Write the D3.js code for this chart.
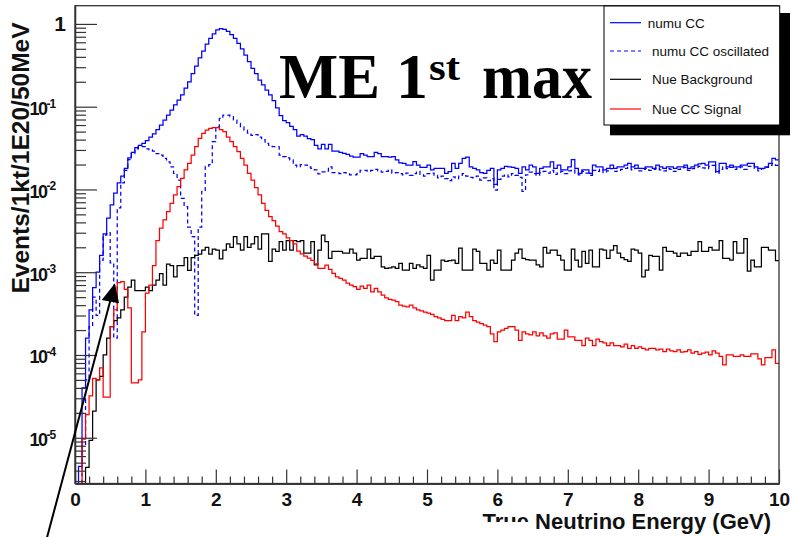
<!DOCTYPE html>
<html><head><meta charset="utf-8">
<script src="https://cdn.jsdelivr.net/npm/d3@7"></script>
<style>
body{margin:0;background:#fff;}
svg{display:block;}
</style></head><body>
<svg id="c" width="793" height="537"></svg>
<script>
// ---------------- DATA (bin contents, 50 MeV bins from 0 to 10 GeV) ----------------
const nBins = 200, eMin = 0, eMax = 10;
const numuCC = [
0,4.5e-6,4e-5,1.6e-4,3.5e-4,6.5e-4,1.0e-3,1.6e-3,2.9e-3,4.5e-3,
6.5e-3,9e-3,0.012,0.0145,0.018,0.024,0.028,0.032,0.034,0.036,
0.039,0.043,0.047,0.053,0.060,0.069,0.079,0.091,0.105,0.12,
0.139,0.167,0.20,0.25,0.31,0.39,0.47,0.57,0.67,0.76,
0.85,0.88,0.86,0.81,0.74,0.67,0.58,0.50,0.42,0.35,
0.29,0.25,0.21,0.183,0.159,0.139,0.118,0.097,0.078,0.068,
0.064,0.058,0.053,0.044,0.046,0.044,0.041,0.040,0.034,0.031,
0.035,0.031,0.035,0.029,0.029,0.028,0.0273,0.0265,0.0253,0.0245,
0.0245,0.027,0.026,0.025,0.025,0.028,0.027,0.025,0.025,0.0245,
0.025,0.0227,0.021,0.0207,0.0197,0.0197,0.0217,0.0197,0.0185,0.0185,
0.0197,0.0172,0.018,0.018,0.018,0.0156,0.0164,0.0207,0.018,0.0207,
0.0238,0.0245,0.0188,0.018,0.0172,0.016,0.0156,0.017,0.018,0.0115,
0.0172,0.018,0.019,0.0188,0.0185,0.018,0.0156,0.0188,0.0172,0.0197,
0.0188,0.0156,0.018,0.0188,0.0188,0.0215,0.018,0.0197,0.0172,0.0172,
0.0188,0.023,0.018,0.0156,0.0172,0.0172,0.0156,0.0197,0.0188,0.0188,
0.0172,0.018,0.0197,0.018,0.0188,0.0188,0.0197,0.0207,0.0188,0.0197,
0.018,0.018,0.0188,0.0188,0.018,0.0197,0.0188,0.018,0.0188,0.0188,
0.018,0.0188,0.0188,0.0197,0.018,0.0188,0.0197,0.0203,0.0207,0.0197,
0.0215,0.0215,0.0164,0.0207,0.0207,0.0188,0.0197,0.0188,0.0188,0.0197,
0.0197,0.0207,0.0207,0.0188,0.018,0.018,0.0188,0.0207,0.0238,0.0227];
const numuCCOsc = [
0,0,8e-6,5e-5,2.2e-4,5e-4,3e-4,1.4e-3,2.8e-3,3.0e-3,
1.3e-3,1.6e-4,6e-3,0.012,0.017,0.023,0.027,0.031,0.033,0.033,
0.031,0.030,0.029,0.027,0.026,0.0238,0.0216,0.0188,0.0156,0.013,
0.0078,0.0062,0.0035,0.0027,3.0e-4,0.0035,0.0095,0.019,0.020,0.0377,
0.057,0.072,0.079,0.079,0.076,0.069,0.063,0.057,0.052,0.048,
0.045,0.046,0.043,0.040,0.036,0.034,0.033,0.033,0.026,0.025,
0.024,0.0227,0.0197,0.0188,0.020,0.0197,0.0188,0.018,0.0172,0.0154,
0.0163,0.0167,0.0188,0.016,0.016,0.0155,0.016,0.0154,0.015,0.015,
0.0154,0.017,0.017,0.0165,0.017,0.0175,0.0168,0.0162,0.0165,0.0172,
0.0158,0.016,0.0155,0.015,0.0158,0.0148,0.0155,0.0165,0.0152,0.0145,
0.0155,0.0158,0.0148,0.0138,0.0145,0.0135,0.0128,0.0142,0.0135,0.0148,
0.0155,0.0145,0.014,0.0138,0.0145,0.013,0.0138,0.0128,0.0135,0.0098,
0.0132,0.0145,0.015,0.0142,0.0155,0.0148,0.014,0.0095,0.015,0.0162,
0.0155,0.0148,0.016,0.0165,0.0158,0.017,0.0152,0.016,0.0165,0.0155,
0.0168,0.0172,0.0158,0.015,0.0165,0.0158,0.0148,0.017,0.0165,0.0175,
0.016,0.0168,0.0178,0.0165,0.017,0.0175,0.018,0.0185,0.0172,0.018,
0.0168,0.0175,0.018,0.017,0.0175,0.0182,0.0172,0.0168,0.0178,0.0175,
0.0165,0.0175,0.0182,0.0185,0.017,0.0178,0.0185,0.019,0.0182,0.0178,
0.019,0.0195,0.0158,0.0175,0.0188,0.0178,0.0185,0.0175,0.0182,0.0188,
0.0175,0.019,0.0195,0.018,0.0168,0.0178,0.0185,0.0195,0.0205,0.0195];
const nueBackground = [
0,0,0,4.4e-6,9.3e-6,2.1e-5,5e-5,5.5e-5,1e-4,1.6e-4,
2.2e-4,2.6e-4,2.8e-4,3.5e-4,5e-4,6.6e-4,8e-4,6e-4,6e-4,6e-4,
6.6e-4,6e-4,7e-4,8e-4,9.6e-4,7e-4,1.25e-3,1.2e-3,8.8e-4,1.2e-3,
1.2e-3,1.5e-3,1.05e-3,1.5e-3,1.6e-3,1.65e-3,1.85e-3,2e-3,1.65e-3,1.9e-3,
1.85e-3,1.45e-3,1.85e-3,2.2e-3,2e-3,2.7e-3,2.2e-3,1.85e-3,2.7e-3,2e-3,
2.2e-3,2.7e-3,1.9e-3,2.9e-3,2.9e-3,1.35e-3,1.9e-3,1.78e-3,2.35e-3,1.85e-3,
2.4e-3,1.85e-3,2.4e-3,2.35e-3,2.4e-3,1.7e-3,1.7e-3,2.35e-3,1.23e-3,1.85e-3,
2.8e-3,2.35e-3,1.47e-3,1.78e-3,1.78e-3,1.78e-3,1.7e-3,1.7e-3,1.9e-3,1.7e-3,
1.4e-3,1.47e-3,1.47e-3,1.9e-3,1.47e-3,1.55e-3,1.55e-3,1.16e-3,1.11e-3,1.13e-3,
1.16e-3,1.11e-3,1.28e-3,1.06e-3,1.06e-3,1.28e-3,1.11e-3,1.23e-3,1.16e-3,1.11e-3,
1.6e-3,8e-4,1.06e-3,1.06e-3,1.4e-3,1.35e-3,1.38e-3,1.4e-3,1.28e-3,1.95e-3,
1.06e-3,1.06e-3,1.06e-3,1.9e-3,1.78e-3,1.28e-3,1.28e-3,1.06e-3,1.4e-3,1.28e-3,
1.85e-3,1.06e-3,1.06e-3,1.06e-3,1.4e-3,1.7e-3,1.9e-3,1.47e-3,1.42e-3,1.4e-3,
1.4e-3,1.23e-3,1.16e-3,2.0e-3,1.7e-3,1.85e-3,1.85e-3,1.6e-3,1.4e-3,1.06e-3,
1.06e-3,1.9e-3,1.4e-3,1.16e-3,1.78e-3,1.28e-3,1.85e-3,1.16e-3,1.16e-3,1.9e-3,
1.85e-3,1.47e-3,1.85e-3,2.1e-3,1.7e-3,1.5e-3,1.42e-3,1.35e-3,1.9e-3,1.85e-3,
1.7e-3,8.8e-4,1.06e-3,1.6e-3,1.55e-3,1.55e-3,1.06e-3,2.0e-3,1.78e-3,1.78e-3,
1.7e-3,1.55e-3,1.7e-3,1.7e-3,1.6e-3,1.78e-3,1.78e-3,2.35e-3,1.78e-3,1.78e-3,
2.0e-3,1.85e-3,1.85e-3,2.4e-3,1.47e-3,1.47e-3,1.4e-3,2.35e-3,1.7e-3,1.7e-3,
2.55e-3,1.03e-3,1.4e-3,1.16e-3,1.16e-3,2.0e-3,2.0e-3,1.85e-3,1.85e-3,1.38e-3];
const nueCCSignal = [
0,0,9.6e-6,1.9e-5,3.2e-5,5.2e-5,5e-5,7e-5,3.1e-5,3.1e-5,
2.2e-4,3.5e-4,7.5e-4,7.7e-4,6.2e-4,3.7e-4,4.6e-5,4.6e-5,5e-5,1.9e-4,
5.6e-4,7e-4,1.2e-3,2.4e-3,0.0034,0.0043,0.0054,0.0068,0.0086,0.0108,
0.0136,0.0172,0.0207,0.026,0.033,0.0415,0.0477,0.052,0.0547,0.056,
0.056,0.053,0.050,0.043,0.0377,0.033,0.0286,0.0238,0.0197,0.0156,
0.013,0.0105,0.0086,0.0068,0.0056,0.0047,0.0042,0.0036,0.0031,0.0029,
0.0026,0.0024,0.0022,0.0018,0.00167,0.00157,0.00148,0.00139,0.00126,0.00111,
0.00111,0.00122,0.00108,0.00097,0.00088,0.00084,0.0008,0.00074,0.0007,0.00067,
0.00062,0.00068,0.00064,0.0007,0.00058,0.00064,0.00058,0.00053,0.00049,0.00047,
0.00046,0.00044,0.0004,0.00039,0.00038,0.0004,0.00037,0.00035,0.00034,0.00033,
0.00032,0.00031,0.00029,0.00028,0.00027,0.00026,0.00026,0.0003,0.00026,0.00029,
0.00028,0.00033,0.00029,0.00026,0.00025,0.00024,0.00023,0.00022,0.00018,0.000145,
0.00019,0.0002,0.00021,0.00022,0.00022,0.0002,0.00015,0.00019,0.00018,0.000175,
0.00019,0.00017,0.000185,0.00017,0.00016,0.00018,0.000185,0.000155,0.000155,0.0002,
0.000165,0.000165,0.00015,0.00015,0.00013,0.00016,0.00015,0.00013,0.000155,0.000145,
0.00014,0.00013,0.00014,0.00013,0.00013,0.000125,0.000135,0.00012,0.00013,0.00012,
0.000125,0.00012,0.000115,0.00012,0.00012,0.000115,0.000118,0.00011,0.000118,0.000112,
0.00011,0.000115,0.000108,0.00011,0.000115,0.000105,0.00011,0.000102,0.000105,0.000108,
0.0001,0.000112,0.000105,9.6e-5,7.6e-5,1e-4,1e-4,9.6e-5,9.6e-5,1e-4,
9.6e-5,9.6e-5,1.03e-4,1.03e-4,9e-5,7.6e-5,9.3e-5,9.3e-5,1.15e-4,7.9e-5];
const xTickValues = [0,1,2,3,4,5,6,7,8,9,10];
const yMajorTicks = [1e-5,1e-4,1e-3,1e-2,1e-1,1];
const yTickMantissa = ["10","10","10","10","10","1"];
const yTickExponent = ["-5","-4","-3","-2","-1",""];
const seriesNames = ["numu CC","numu CC oscillated","Nue Background","Nue CC Signal"];
const yAxisTitle = "Events/1kt/1E20/50MeV";
const xAxisTitle = "True Neutrino Energy (GeV)";

// ---------------- LAYOUT ----------------
const svg = d3.select("#c");
const P = {left:75, right:779, top:5.7, bottom:483.5};
const yDomain = [2.8e-6, 1.66];
const x = d3.scaleLinear().domain([eMin,eMax]).range([P.left,P.right]);
const y = d3.scaleLog().domain(yDomain).range([P.bottom,P.top]).clamp(true);
const bw = (eMax-eMin)/nBins;
const sans = "'Liberation Sans',Arial,Helvetica,sans-serif";

svg.append("rect").attr("width",793).attr("height",537).attr("fill","#fff");

svg.append("defs").append("clipPath").attr("id","clip")
  .append("rect").attr("x",P.left).attr("y",P.top)
  .attr("width",P.right-P.left).attr("height",P.bottom-P.top);

const series = [
  {name:seriesNames[0], data:numuCC, color:"#0000ff", dash:null},
  {name:seriesNames[1], data:numuCCOsc, color:"#0000ff", dash:"4,3"},
  {name:seriesNames[2], data:nueBackground, color:"#000000", dash:null},
  {name:seriesNames[3], data:nueCCSignal, color:"#ff0000", dash:null}
];

const line = d3.line().x(d=>x(d[0])).y(d=>y(d[1] > 0 ? d[1] : yDomain[0]));
function stepPoints(arr){
  const pts=[];
  arr.forEach((v,i)=>{ pts.push([eMin+i*bw, v]); pts.push([eMin+(i+1)*bw, v]); });
  return pts;
}
const gH = svg.append("g").attr("clip-path","url(#clip)");
series.forEach(s=>{
  gH.append("path").attr("d", line(stepPoints(s.data)))
    .attr("fill","none").attr("stroke",s.color).attr("stroke-width",1.25)
    .attr("stroke-dasharray", s.dash).attr("stroke-linejoin","miter");
});

// frame
svg.append("rect").attr("x",P.left).attr("y",P.top)
  .attr("width",P.right-P.left).attr("height",P.bottom-P.top)
  .attr("fill","none").attr("stroke","#333").attr("stroke-width",1.3);

// x axis
const xMinor = d3.range(0,51).map(i=>i*0.2).filter(v=>Math.abs(v-Math.round(v))>1e-6 && v<=eMax);
const gx = svg.append("g").attr("transform",`translate(0,${P.bottom})`);
gx.call(d3.axisBottom(x).tickValues(xTickValues).tickSizeInner(-14).tickSizeOuter(0).tickPadding(8).tickFormat(d3.format("d")));
const gxm = svg.append("g").attr("transform",`translate(0,${P.bottom})`);
gxm.call(d3.axisBottom(x).tickValues(xMinor).tickSizeInner(-7).tickSizeOuter(0).tickFormat(""));
[gx,gxm].forEach(g=>{
  g.select(".domain").attr("stroke","#333").attr("stroke-width",1.3);
  g.selectAll(".tick line").attr("stroke","#333").attr("stroke-width",1.2);
});
gx.selectAll(".tick text").attr("font-family",sans)
  .attr("font-weight","bold").attr("font-size",19).attr("fill","#111")
  .attr("dy","0.71em").attr("y",9);

// y axis
const yMinor=[];
for(let e=-6;e<=0;e++){ for(let m=2;m<=9;m++){ const v=m*Math.pow(10,e); if(v>yDomain[0]&&v<yDomain[1]) yMinor.push(v);} }
const gy = svg.append("g").attr("transform",`translate(${P.left},0)`);
gy.call(d3.axisLeft(y).tickValues(yMajorTicks).tickSizeInner(-22).tickSizeOuter(0).tickFormat(""));
const gym = svg.append("g").attr("transform",`translate(${P.left},0)`);
gym.call(d3.axisLeft(y).tickValues(yMinor).tickSizeInner(-11).tickSizeOuter(0).tickFormat(""));
[gy,gym].forEach(g=>{
  g.select(".domain").attr("stroke","#333").attr("stroke-width",1.3);
  g.selectAll(".tick line").attr("stroke","#333").attr("stroke-width",1.2);
});
yMajorTicks.forEach((v,i)=>{
  const yy = y(v);
  if(yTickExponent[i]===""){
    svg.append("text").attr("x",66).attr("y",yy+7.5).attr("text-anchor","end")
      .attr("font-family",sans).attr("font-weight","bold")
      .attr("font-size",21).attr("fill","#111").text(yTickMantissa[i]);
  } else {
    const t = svg.append("text").attr("x",55.5).attr("y",yy+8.5).attr("text-anchor","end")
      .attr("font-family",sans).attr("font-weight","bold").attr("fill","#111");
    t.append("tspan").attr("font-size",18).attr("letter-spacing",-1.5).text(yTickMantissa[i]);
    t.append("tspan").attr("font-size",12).attr("letter-spacing",-0.8).attr("dy",-7.5).text(yTickExponent[i]);
  }
});

// axis titles
svg.append("text").attr("transform","translate(28.5,158) rotate(-90)")
  .attr("text-anchor","middle").attr("font-family",sans)
  .attr("font-weight","bold").attr("font-size",24.5).attr("fill","#111").text(yAxisTitle);
svg.append("text").attr("x",771).attr("y",529).attr("text-anchor","end")
  .attr("font-family",sans)
  .attr("font-weight","bold").attr("font-size",22).attr("fill","#111").text(xAxisTitle);
// the lower part of the first word is hidden in the reference picture
svg.append("rect").attr("x",470).attr("y",522).attr("width",60).attr("height",15).attr("fill","#fff");

// title "ME 1st max"
const tf = "'Liberation Serif','Times New Roman',serif";
svg.append("text").attr("x",279).attr("y",98).attr("font-family",tf).attr("font-weight","bold")
  .attr("font-size",64).attr("textLength",101).attr("lengthAdjust","spacingAndGlyphs").text("ME");
svg.append("text").attr("x",396).attr("y",98).attr("font-family",tf).attr("font-weight","bold")
  .attr("font-size",64).text("1");
svg.append("text").attr("x",429).attr("y",80).attr("font-family",tf).attr("font-weight","bold")
  .attr("font-size",38).attr("textLength",31).attr("lengthAdjust","spacingAndGlyphs").text("st");
svg.append("text").attr("x",482).attr("y",98).attr("font-family",tf).attr("font-weight","bold")
  .attr("font-size",64).attr("textLength",110).attr("lengthAdjust","spacingAndGlyphs").text("max");

// legend
const L = {x:604, y:6, w:175.7, h:119};
svg.append("rect").attr("x",L.x+6).attr("y",L.y+7).attr("width",L.w+4.3).attr("height",L.h+3.3).attr("fill","#000");
svg.append("rect").attr("x",L.x).attr("y",L.y).attr("width",L.w).attr("height",L.h)
  .attr("fill","#fff").attr("stroke","#000").attr("stroke-width",1);
const rowY = [22.7,51,79.3,109];
const textX = [647.7,652,652,652];
series.forEach((s,i)=>{
  svg.append("line").attr("x1",610).attr("x2",641).attr("y1",rowY[i]).attr("y2",rowY[i])
    .attr("stroke",s.color).attr("stroke-width",1.2).attr("stroke-dasharray",s.dash);
  svg.append("text").attr("x",textX[i]).attr("y",rowY[i]+5).attr("font-family",sans)
    .attr("font-size",13.5).attr("fill","#111").text(s.name);
});

// annotation arrow
svg.append("line").attr("x1",45).attr("y1",545).attr("x2",110.5).attr("y2",300)
  .attr("stroke","#000").attr("stroke-width",2);
svg.append("path").attr("d","M115,283.3 L101.7,300 L119,303.3 Z").attr("fill","#000");
</script>
</body></html>
